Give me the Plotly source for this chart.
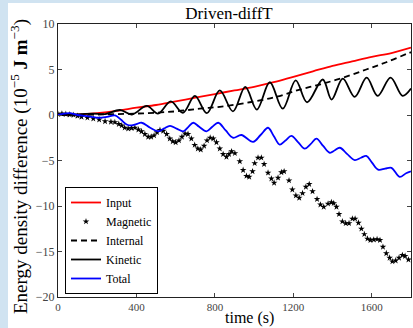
import plotly.graph_objects as go

# ---- data ----
input_t = [0, 100, 200, 300, 400, 500, 600, 700, 800, 900, 1000, 1100, 1200, 1300, 1400, 1500, 1600, 1700, 1800]
input_v = [0, 0.05, 0.2, 0.45, 0.8, 1.1, 1.5, 1.9, 2.3, 2.7, 3.1, 3.6, 4.2, 4.8, 5.4, 5.9, 6.4, 6.8, 7.4]

magnetic_t = [0, 20, 40, 60, 80, 100, 120, 150, 180, 210, 240, 270, 290, 310, 325, 340, 358, 375, 392, 410,
              426, 443, 460, 475, 490, 505, 520, 537, 554, 570, 585, 600, 617, 632, 648, 663, 680, 697, 713, 728,
              745, 760, 776, 792, 808, 825, 842, 859, 872, 885, 902, 927, 944, 961, 975, 992, 1003, 1020, 1037, 1051,
              1071, 1088, 1102, 1122, 1139, 1153, 1178, 1195, 1213, 1230, 1247, 1264, 1281, 1298, 1321, 1338, 1355, 1377, 1394, 1406,
              1420, 1433, 1450, 1467, 1484, 1501, 1515, 1532, 1547, 1562, 1578, 1593, 1610, 1627, 1642, 1657, 1674, 1691, 1705, 1722,
              1739, 1756, 1770, 1787]
magnetic_v = [0.1, 0.15, 0.1, 0.05, 0.0, -0.1, -0.2, -0.3, -0.4, -0.5, -0.7, -0.75, -0.8, -1.0, -1.15, -1.4, -1.5, -1.45, -1.4, -1.6,
              -1.8, -2.1, -2.4, -2.4, -2.25, -1.9, -1.65, -1.75, -2.1, -2.6, -2.9, -3.0, -2.8, -2.4, -2.05, -2.1, -2.6, -3.3, -3.7, -3.8,
              -3.4, -2.8, -2.5, -2.6, -3.0, -3.7, -4.3, -4.6, -4.3, -4.0, -4.2, -5.1, -6.05, -6.7, -6.8, -6.2, -5.3, -4.7, -4.7, -5.4,
              -6.35, -7.0, -7.45, -6.9, -6.3, -6.2, -7.2, -8.2, -8.85, -9.1, -8.6, -7.9, -7.6, -8.4, -9.25, -9.85, -10.1, -9.75, -9.6, -9.7,
              -10.1, -10.9, -11.7, -11.9, -11.9, -11.4, -11.4, -11.85, -12.5, -13.1, -13.6, -13.75, -13.7, -13.65, -13.75, -14.5, -15.2, -15.7, -16.1, -16.0,
              -15.7, -15.4, -15.5, -15.9]

internal_t = [0, 150, 300, 450, 600, 723, 825, 978, 1114, 1233, 1335, 1453, 1572, 1674, 1776, 1800]
internal_v = [0, 0.02, 0.1, 0.2, 0.4, 0.7, 0.9, 1.4, 2.0, 2.8, 3.35, 4.1, 5.0, 5.8, 6.7, 6.9]

kinetic_t = [0, 60, 120, 180, 240, 316, 377, 453, 510, 575, 637, 698, 759, 825, 892, 955, 1014, 1080, 1146, 1212,
             1270, 1350, 1395, 1452, 1513, 1574, 1630, 1696, 1757, 1800]
kinetic_v = [0, 0.05, 0.1, 0.15, 0.1, 0.55, 0.05, 1.0, 0.15, 1.5, 0.25, 2.1, 0.2, 2.7, 0.4, 3.1, 0.6, 3.6, 0.7, 3.8,
             1.4, 3.9, 1.7, 4.0, 2.0, 4.1, 2.1, 4.1, 2.1, 2.9]

total_t = [0, 30, 60, 100, 138, 170, 206, 250, 291, 320, 350, 375, 400, 426, 470, 511, 540, 571, 605, 639,
           665, 690, 720, 757, 787, 817, 855, 893, 935, 995, 1033, 1071, 1100, 1131, 1160, 1190, 1225, 1258, 1288, 1318,
           1352, 1386, 1410, 1437, 1475, 1513, 1545, 1572, 1600, 1632, 1668, 1700, 1742, 1775, 1800]
total_v = [0, 0.15, 0.2, 0.0, -0.1, -0.2, -0.3, -0.2, -0.05, -0.5, -1.05, -1.15, -1.0, -0.85, -1.4, -1.8, -1.5, -1.2, -1.5, -1.8,
           -1.3, -0.85, -1.3, -1.8, -1.3, -0.85, -1.7, -2.5, -2.2, -2.95, -2.2, -1.4, -2.3, -3.25, -2.8, -2.3, -3.0, -3.7, -3.2, -2.6,
           -3.4, -4.15, -3.9, -3.6, -4.3, -4.95, -4.7, -4.5, -5.2, -6.0, -5.9, -5.8, -6.8, -6.4, -6.2]

x_ticks = [0, 400, 800, 1200, 1600]
y_ticks = [-20, -15, -10, -5, 0, 5, 10]

FONT = "Liberation Serif"
BG = "#d0e3f1"

fig = go.Figure()
fig.add_trace(go.Scatter(x=input_t, y=input_v, mode="lines", name="Input",
                         line=dict(color="#ff0000", width=1.8, shape="spline")))
fig.add_trace(go.Scatter(x=magnetic_t, y=magnetic_v, mode="markers", name="Magnetic",
                         marker=dict(symbol="star", color="black", size=5, line=dict(width=0))))
fig.add_trace(go.Scatter(x=internal_t, y=internal_v, mode="lines", name="Internal",
                         line=dict(color="black", width=1.8, dash="6px,4px", shape="spline")))
fig.add_trace(go.Scatter(x=kinetic_t, y=kinetic_v, mode="lines", name="Kinetic",
                         line=dict(color="black", width=1.8, shape="spline")))
fig.add_trace(go.Scatter(x=total_t, y=total_v, mode="lines", name="Total",
                         line=dict(color="#0000ff", width=1.8, shape="spline")))

L, R, T, B = 58, 2, 24, 31
W, H = 413, 328
pw, ph = W - L - R, H - T - B


def px_x(p):
    return (p - L) / pw


def px_y(p):
    return (H - B - p) / ph


fig.add_shape(type="rect", xref="paper", yref="paper",
              x0=px_x(8), x1=px_x(W), y0=px_y(H), y1=px_y(3),
              fillcolor="white", line=dict(width=0), layer="below")

fig.add_annotation(text="time (s)", xref="paper", yref="paper", x=px_x(249), y=px_y(H),
                   xanchor="center", yanchor="bottom", showarrow=False, borderpad=0,
                   font=dict(size=16, family=FONT, color="black"))
fig.add_annotation(text="Energy density difference (10<sup>−5</sup> <b>J m</b><sup>−3</sup>)",
                   xref="paper", yref="paper", x=px_x(19), y=px_y(167), textangle=-90,
                   xanchor="center", yanchor="middle", showarrow=False,
                   font=dict(size=19, family=FONT, color="black"))

fig.update_layout(
    width=W, height=H,
    margin=dict(l=L, r=R, t=T, b=B),
    paper_bgcolor=BG,
    plot_bgcolor="white",
    font=dict(family=FONT, color="black"),
    title=dict(text="Driven-diffT", x=px_x(229), xref="paper", xanchor="center",
               y=1 - 13 / H, yanchor="middle", font=dict(size=17, family=FONT)),
    showlegend=True,
    legend=dict(x=px_x(65), y=px_y(294), xanchor="left", yanchor="bottom",
                bgcolor="white", bordercolor="black", borderwidth=1,
                font=dict(size=12, family=FONT), tracegroupgap=0, itemwidth=30),
)
fig.update_xaxes(range=[0, 1800], tickvals=x_ticks, ticks="inside", ticklen=4, tickcolor="#444",
                 showline=True, linecolor="#222", linewidth=1, mirror="ticks", showgrid=False, zeroline=False,
                 tickfont=dict(size=11, color="#444", family=FONT))
fig.update_yaxes(range=[-20, 10], tickvals=y_ticks, ticks="inside", ticklen=4, tickcolor="#444",
                 showline=True, linecolor="#222", linewidth=1, mirror="ticks", showgrid=False, zeroline=False,
                 tickfont=dict(size=12, color="#444", family=FONT))

fig.write_html("out.html", config={"displayModeBar": False},
               post_script="document.body.style.margin='0px';document.body.style.background='%s';" % BG)
